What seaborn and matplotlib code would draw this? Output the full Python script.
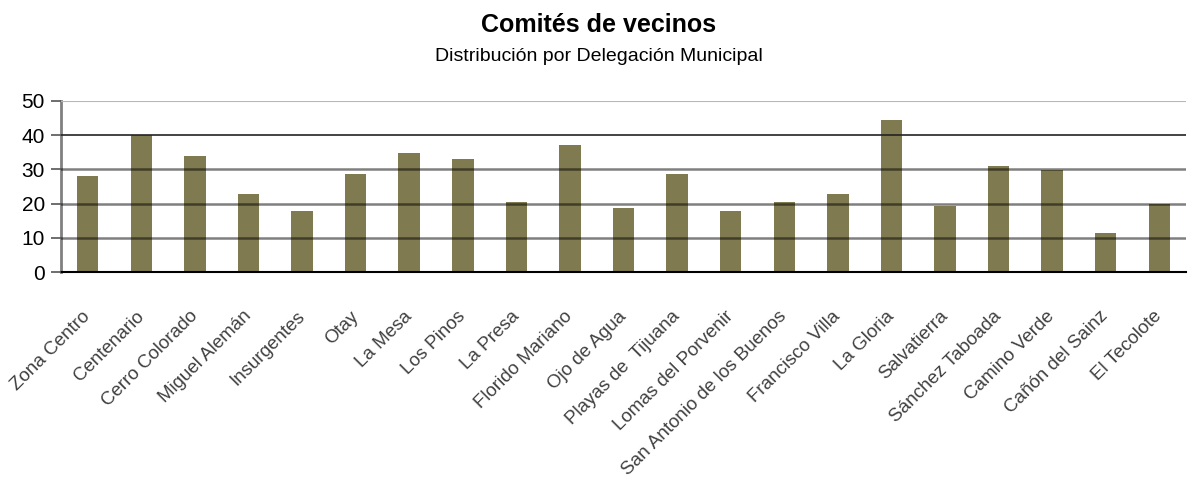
import matplotlib
matplotlib.use("Agg")
import matplotlib.pyplot as plt
import seaborn as sns
import pandas as pd

delegaciones = ["Zona Centro", "Centenario", "Cerro Colorado", "Miguel Alemán",
                "Insurgentes", "Otay", "La Mesa", "Los Pinos", "La Presa",
                "Florido Mariano", "Ojo de Agua", "Playas de  Tijuana",
                "Lomas del Porvenir", "San Antonio de los Buenos",
                "Francisco Villa", "La Gloria", "Salvatierra", "Sánchez Taboada",
                "Camino Verde", "Cañón del Sainz", "El Tecolote"]
comites = [28.2, 40, 34, 22.7, 17.7, 28.8, 34.8, 33, 20.6, 37, 18.6, 28.8,
           17.7, 20.6, 22.7, 44.4, 19.2, 30.9, 29.9, 11.5, 20]
yticks = [0, 10, 20, 30, 40, 50]

df = pd.DataFrame({"delegacion": delegaciones, "comites": comites})

sns.set_style("white")
plt.rcParams["font.family"] = ["Liberation Sans", "DejaVu Sans"]

fig = plt.figure(figsize=(11.97, 4.8), dpi=100)
ax = fig.add_axes([61 / 1197, (480 - 272) / 480, 1125 / 1197, 171 / 480])

sns.barplot(data=df, x="delegacion", y="comites", color="#807a50",
            saturation=1, width=0.4, linewidth=0, ax=ax)

ax.set_xlim(-0.5, len(delegaciones) - 0.5)
ax.set_ylim(0, 50)
ax.set_yticks(yticks)
ax.set_xlabel("")
ax.set_ylabel("")

# gridlines drawn over the bars, like the original
ax.set_axisbelow(False)
ax.yaxis.grid(True)
grid = ax.yaxis.get_gridlines()
for i, g in enumerate(grid):
    if i == 0:
        g.set_visible(False)
    elif i == len(grid) - 1:
        g.set_color("#bdb89f")
        g.set_linewidth(1.5)
    elif i == len(grid) - 2:
        g.set_color("#222222")
        g.set_linewidth(1.2)
    else:
        g.set_color("black")
        g.set_alpha(0.5)
        g.set_linewidth(1.8)

for s in ["top", "right"]:
    ax.spines[s].set_visible(False)
ax.spines["left"].set_color("#808080")
ax.spines["left"].set_linewidth(2)
ax.spines["bottom"].set_color("black")
ax.spines["bottom"].set_linewidth(1.5)

ax.tick_params(axis="y", length=7.5, width=1.2, color="#555555",
               labelsize=15, labelcolor="black", pad=4, left=True)
ax.tick_params(axis="x", length=0, pad=30, labelsize=13.5, labelcolor="#404040")
for lab in ax.get_xticklabels():
    lab.set_rotation(45)
    lab.set_ha("right")
    lab.set_va("center")
    lab.set_rotation_mode("anchor")

fig.text(0.5, 0.948, "Comités de vecinos", ha="center", va="center",
         fontsize=18, fontweight="bold", color="black")
fig.text(0.5, 0.883, "Distribución por Delegación Municipal", ha="center",
         va="center", fontsize=14, color="black")

fig.savefig("out.png", dpi=100)
